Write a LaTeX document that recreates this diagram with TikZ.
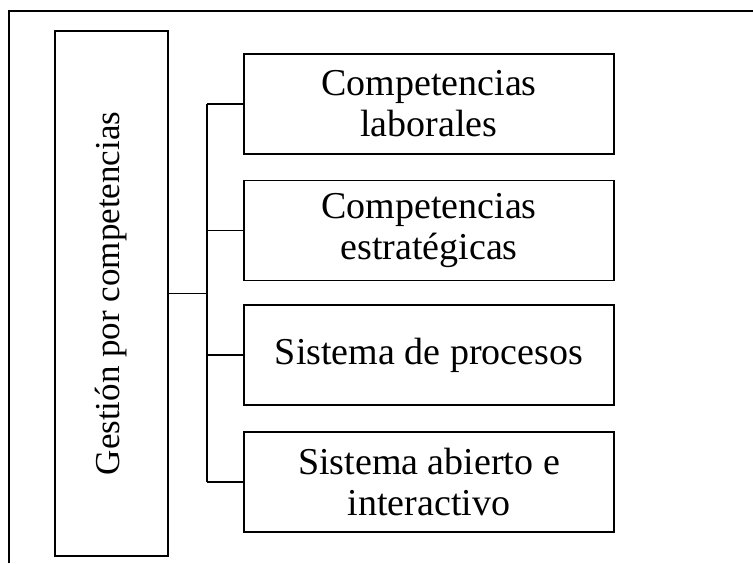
\documentclass[tikz,border=0pt]{standalone}
\usepackage{fontspec}
\setmainfont{Liberation Serif}
\usepackage{xcolor}

\tikzset{
  caja/.style={draw, line width=1.3pt, minimum width=370pt, minimum height=100pt, align=center, inner sep=0pt, font=\fontsize{38}{41}\selectfont},
  raiz/.style={draw, line width=1.3pt, minimum width=113pt, minimum height=525pt, inner sep=0pt},
  linea/.style={line width=1.3pt}
}

\begin{document}
\begin{tikzpicture}[x=1pt, y=-1pt]
				\useasboundingbox (0,0) rectangle (753,563);
				\draw[line width=1.4pt] (9,563) -- (9,11) -- (753,11);
				\node[raiz] (gestion) at (111.5,293.5) {};
				\node[rotate=90, font=\fontsize{35}{35}\selectfont] (titulo) at (gestion.center) {Gestión por competencias};
				\node[caja] (b1) at (429,104) {Competencias\\laborales};
				\node[caja] (b2) at (429,230.5) {Competencias\\estratégicas};
				\node[caja] (b3) at (429,355) {Sistema de procesos};
				\node[caja] (b4) at (429,482) {Sistema abierto e\\interactivo};
				\coordinate (bus) at (207,293.5);
				\draw[linea] (gestion.east) -- (bus);
				\draw[linea] (bus |- b1.west) -- (bus |- b4.west);
				\foreach \b in {b1,b2,b3,b4}
					\draw[linea] (bus |- \b.west) -- (\b.west);
			\end{tikzpicture}
\end{document}
